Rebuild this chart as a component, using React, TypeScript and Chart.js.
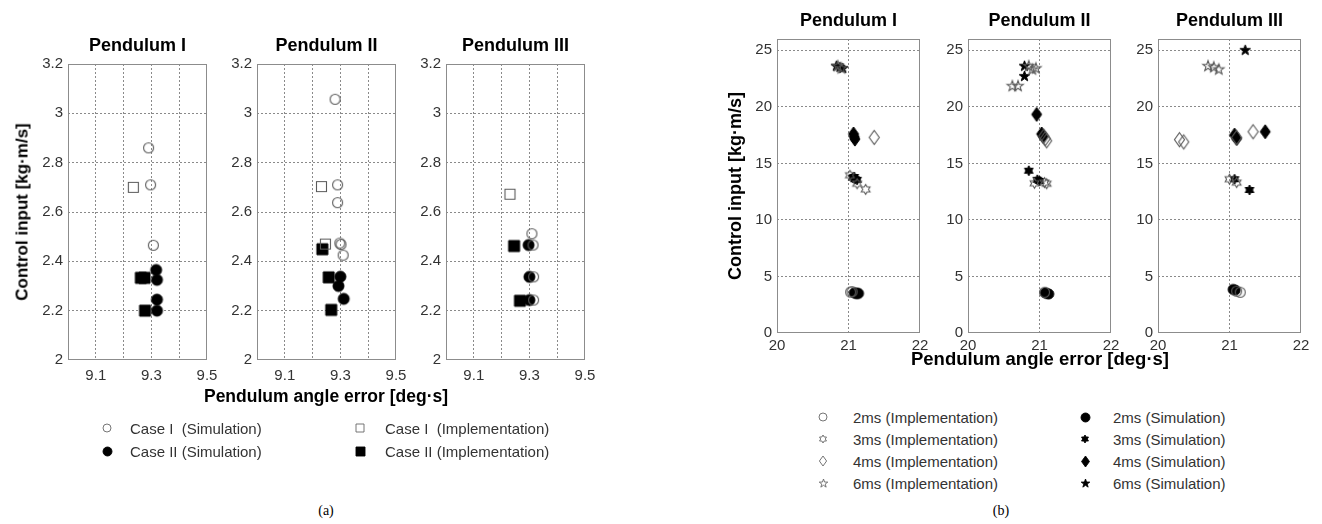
import React, { useEffect, useRef } from 'react';
import { Chart, registerables } from 'chart.js';

Chart.register(...registerables);

const FONT = '"Liberation Sans", Arial, Helvetica, sans-serif';
const TEXT_DARK = '#333333';
const OPEN_COLOR = '#5a5a5a';
const GRID_COLOR = '#8a8a8a';
const BOX_COLOR = '#8c8c8c';

type Pt = [number, number];

// ---------- (a) data ----------
const aTitles = ['Pendulum I', 'Pendulum II', 'Pendulum III'];
const aXTicks = [9.1, 9.2, 9.3, 9.4, 9.5];
const aXLabels = [9.1, 9.3, 9.5];
const aYTicks = [2, 2.2, 2.4, 2.6, 2.8, 3, 3.2];

const aP1CaseISim: Pt[] = [[9.29, 2.86], [9.297, 2.71], [9.307, 2.465]];
const aP1CaseIImpl: Pt[] = [[9.235, 2.7]];
const aP1CaseIISim: Pt[] = [[9.317, 2.365], [9.32, 2.325], [9.32, 2.245], [9.32, 2.2]];
const aP1CaseIIImpl: Pt[] = [[9.262, 2.333], [9.275, 2.333], [9.277, 2.2]];

const aP2CaseISim: Pt[] = [[9.281, 3.057], [9.29, 2.71], [9.29, 2.638], [9.298, 2.474], [9.302, 2.468], [9.31, 2.425]];
const aP2CaseIImpl: Pt[] = [[9.232, 2.703], [9.246, 2.47]];
const aP2CaseIISim: Pt[] = [[9.3, 2.338], [9.293, 2.3], [9.312, 2.248]];
const aP2CaseIIImpl: Pt[] = [[9.235, 2.449], [9.258, 2.335], [9.267, 2.203]];

const aP3CaseISim: Pt[] = [[9.309, 2.512], [9.313, 2.466], [9.315, 2.337], [9.315, 2.243]];
const aP3CaseIImpl: Pt[] = [[9.23, 2.672]];
const aP3CaseIISim: Pt[] = [[9.297, 2.466], [9.3, 2.337], [9.3, 2.243]];
const aP3CaseIIImpl: Pt[] = [[9.245, 2.462], [9.266, 2.24]];

const aLegendLabels = ['Case I  (Simulation)', 'Case II (Simulation)', 'Case I  (Implementation)', 'Case II (Implementation)'];

// ---------- (b) data ----------
const bXTicks = [20, 21, 22];
const bYTicks = [0, 5, 10, 15, 20, 25];

const bP1Impl2: Pt[] = [[21.03, 3.62], [21.05, 3.65]];
const bP1Sim2: Pt[] = [[21.08, 3.55], [21.1, 3.5], [21.12, 3.5], [21.14, 3.5]];
const bP1Impl3: Pt[] = [[21.02, 13.95], [21.12, 13.2], [21.24, 12.7]];
const bP1Sim3: Pt[] = [[21.06, 13.75], [21.09, 13.6], [21.12, 13.55], [21.08, 13.8]];
const bP1Impl4: Pt[] = [[21.36, 17.3]];
const bP1Sim4: Pt[] = [[21.07, 17.6], [21.08, 17.35], [21.09, 17.15]];
const bP1Impl6: Pt[] = [[20.85, 23.6], [20.9, 23.4]];
const bP1Sim6: Pt[] = [[20.83, 23.6], [20.88, 23.5], [20.92, 23.4]];

const bP2Impl2: Pt[] = [[21.07, 3.6]];
const bP2Sim2: Pt[] = [[21.08, 3.55], [21.1, 3.5], [21.13, 3.45]];
const bP2Impl3: Pt[] = [[20.93, 13.24], [21.07, 13.3], [21.1, 13.2]];
const bP2Sim3: Pt[] = [[20.85, 14.35], [20.97, 13.55], [21.0, 13.45]];
const bP2Impl4: Pt[] = [[21.06, 17.4], [21.08, 17.2], [21.1, 17.0]];
const bP2Sim4: Pt[] = [[20.96, 19.33], [21.03, 17.6], [21.05, 17.4]];
const bP2Impl6: Pt[] = [[20.62, 21.83], [20.7, 21.83], [20.9, 23.3], [20.95, 23.4], [20.85, 23.6]];
const bP2Sim6: Pt[] = [[20.79, 23.6], [20.79, 22.7]];

const bP3Impl2: Pt[] = [[21.1, 3.7], [21.15, 3.6]];
const bP3Sim2: Pt[] = [[21.05, 3.85], [21.08, 3.8]];
const bP3Impl3: Pt[] = [[21.0, 13.6], [21.1, 13.3]];
const bP3Sim3: Pt[] = [[21.07, 13.6], [21.28, 12.65]];
const bP3Impl4: Pt[] = [[20.3, 17.1], [20.36, 16.9], [21.1, 17.3], [21.33, 17.8]];
const bP3Sim4: Pt[] = [[21.07, 17.5], [21.1, 17.2], [21.5, 17.8]];
const bP3Impl6: Pt[] = [[20.7, 23.6], [20.78, 23.5], [20.85, 23.3]];
const bP3Sim6: Pt[] = [[21.22, 25.0]];

const bLegendLeft = ['2ms (Implementation)', '3ms (Implementation)', '4ms (Implementation)', '6ms (Implementation)'];
const bLegendRight = ['2ms (Simulation)', '3ms (Simulation)', '4ms (Simulation)', '6ms (Simulation)'];

// ---------- marker drawing ----------
type Shape = 'circle' | 'square' | 'diamond' | 'hexagram' | 'pentagram';

function starPath(ctx: CanvasRenderingContext2D, cx: number, cy: number, n: number, ro: number, ri: number) {
  for (let i = 0; i < 2 * n; i++) {
    const a = -Math.PI / 2 + (i * Math.PI) / n;
    const r = i % 2 === 0 ? ro : ri;
    const px = cx + r * Math.cos(a);
    const py = cy + r * Math.sin(a);
    if (i === 0) ctx.moveTo(px, py);
    else ctx.lineTo(px, py);
  }
  ctx.closePath();
}

function drawShape(ctx: CanvasRenderingContext2D, shape: Shape, cx: number, cy: number, r: number, filled: boolean, color: string, lw: number) {
  ctx.save();
  ctx.beginPath();
  if (shape === 'circle') ctx.arc(cx, cy, r, 0, Math.PI * 2);
  else if (shape === 'square') ctx.rect(cx - r, cy - r, 2 * r, 2 * r);
  else if (shape === 'diamond') {
    ctx.moveTo(cx, cy - r);
    ctx.lineTo(cx + r * 0.72, cy);
    ctx.lineTo(cx, cy + r);
    ctx.lineTo(cx - r * 0.72, cy);
    ctx.closePath();
  } else if (shape === 'hexagram') starPath(ctx, cx, cy, 6, r, r / Math.sqrt(3));
  else starPath(ctx, cx, cy, 5, r, r * 0.4);
  if (filled) {
    ctx.fillStyle = color;
    ctx.fill();
  }
  ctx.lineWidth = lw;
  ctx.strokeStyle = color;
  ctx.stroke();
  ctx.restore();
}

function markerCanvas(shape: Shape, r: number, filled: boolean, lw = 1): HTMLCanvasElement {
  const s = Math.ceil(2 * r + 2 * lw + 2);
  const c = document.createElement('canvas');
  c.width = s;
  c.height = s;
  const ctx = c.getContext('2d')!;
  drawShape(ctx, shape, s / 2, s / 2, r, filled, filled ? '#000000' : OPEN_COLOR, lw);
  return c;
}

// ---------- panel ----------
interface Series {
  data: Pt[];
  shape: Shape;
  r: number;
  filled: boolean;
}

interface PanelProps {
  left: number;
  top: number;
  width: number;
  height: number;
  xMin: number;
  xMax: number;
  yMin: number;
  yMax: number;
  xTicks: number[];
  xLabels: number[];
  yTicks: number[];
  xPad: number;
  series: Series[];
}

const AX_W = 50;
const AX_H = 30;
const PAD_T = 14;
const PAD_R = 16;

const boxPlugin = {
  id: 'matlabBox',
  afterDraw(chart: any) {
    const { ctx, chartArea } = chart;
    ctx.save();
    ctx.strokeStyle = BOX_COLOR;
    ctx.lineWidth = 1;
    ctx.strokeRect(Math.round(chartArea.left) + 0.5, Math.round(chartArea.top) + 0.5, Math.round(chartArea.right - chartArea.left) - 1, Math.round(chartArea.bottom - chartArea.top) - 1);
    ctx.restore();
  },
};

const fmt = (v: number) => String(Math.round(v * 10) / 10);

function Panel(p: PanelProps) {
  const ref = useRef<HTMLCanvasElement | null>(null);
  useEffect(() => {
    if (!ref.current) return;
    const inside = (v: number, lo: number, hi: number) => v > lo + 1e-9 && v < hi - 1e-9;
    const chart = new Chart(ref.current, {
      type: 'scatter',
      data: {
        datasets: p.series.map((s) => ({
          data: s.data.map(([x, y]) => ({ x, y })),
          pointStyle: markerCanvas(s.shape, s.r, s.filled, s.filled ? 1 : 1.1) as any,
          pointRadius: 3,
          showLine: false,
        })),
      },
      options: {
        animation: false,
        responsive: false,
        events: [],
        layout: { padding: { left: 0, top: PAD_T, right: PAD_R, bottom: 0 } },
        plugins: { legend: { display: false }, tooltip: { enabled: false }, title: { display: false } },
        scales: {
          x: {
            type: 'linear',
            min: p.xMin,
            max: p.xMax,
            afterBuildTicks: (sc: any) => {
              sc.ticks = p.xTicks.map((v) => ({ value: v }));
            },
            afterFit: (sc: any) => {
              sc.height = AX_H;
              sc.paddingLeft = 0;
              sc.paddingRight = 0;
            },
            ticks: {
              autoSkip: false,
              maxRotation: 0,
              padding: p.xPad,
              color: TEXT_DARK,
              font: { family: FONT, size: 15 },
              callback: (v: any) => (p.xLabels.some((l) => Math.abs(l - v) < 1e-6) ? fmt(v) : ''),
            },
            grid: {
              drawTicks: false,
              lineWidth: 1,
              color: (c: any) => (c.tick && inside(c.tick.value, p.xMin, p.xMax) ? GRID_COLOR : 'rgba(0,0,0,0)'),
            },
            border: { display: false, dash: [2, 2] },
          },
          y: {
            type: 'linear',
            min: p.yMin,
            max: p.yMax,
            afterBuildTicks: (sc: any) => {
              sc.ticks = p.yTicks.map((v) => ({ value: v }));
            },
            afterFit: (sc: any) => {
              sc.width = AX_W;
              sc.paddingTop = 0;
              sc.paddingBottom = 0;
            },
            ticks: {
              autoSkip: false,
              padding: 5,
              color: TEXT_DARK,
              font: { family: FONT, size: 15 },
              callback: (v: any) => fmt(v),
            },
            grid: {
              drawTicks: false,
              lineWidth: 1,
              color: (c: any) => (c.tick && inside(c.tick.value, p.yMin, p.yMax) ? GRID_COLOR : 'rgba(0,0,0,0)'),
            },
            border: { display: false, dash: [2, 2] },
          },
        },
      },
      plugins: [boxPlugin],
    } as any);
    return () => chart.destroy();
  }, []);
  const w = p.width + AX_W + PAD_R;
  const h = p.height + PAD_T + AX_H;
  return (
    <canvas
      ref={ref}
      width={w}
      height={h}
      style={{ position: 'absolute', left: p.left - AX_W, top: p.top - PAD_T, width: w, height: h }}
    />
  );
}

// ---------- text helpers ----------
function Txt(props: { x: number; y: number; text: string; size: number; bold?: boolean; rotate?: boolean; color?: string; family?: string; align?: 'center' | 'left' }) {
  const center = props.align !== 'left';
  return (
    <div
      style={{
        position: 'absolute',
        left: props.x,
        top: props.y,
        transform: `translate(${center ? '-50%' : '0'}, -50%)${props.rotate ? ' rotate(-90deg)' : ''}`,
        fontFamily: props.family || FONT,
        fontSize: props.size,
        fontWeight: props.bold ? 'bold' : 'normal',
        color: props.color || '#000',
        whiteSpace: 'pre',
        lineHeight: 1,
      }}
    >
      {props.text}
    </div>
  );
}

function Icon(props: { x: number; y: number; shape: Shape; r: number; filled: boolean }) {
  const ref = useRef<HTMLCanvasElement | null>(null);
  const s = Math.ceil(2 * props.r + 6);
  useEffect(() => {
    const c = ref.current;
    if (!c) return;
    const ctx = c.getContext('2d')!;
    ctx.clearRect(0, 0, s, s);
    drawShape(ctx, props.shape, s / 2, s / 2, props.r, props.filled, props.filled ? '#000' : '#666', 0.9);
  }, []);
  return <canvas ref={ref} width={s} height={s} style={{ position: 'absolute', left: props.x - s / 2, top: props.y - s / 2 }} />;
}

// ---------- layout ----------
const A_LEFTS = [68, 257, 446];
const A_TOP = 64;
const A_W = 139;
const A_H = 296;

const B_LEFTS = [777, 968, 1158];
const B_TOP = 39;
const B_W = 143;
const B_H = 294;

export default function App() {
  const aData = [
    [aP1CaseISim, aP1CaseIImpl, aP1CaseIISim, aP1CaseIIImpl],
    [aP2CaseISim, aP2CaseIImpl, aP2CaseIISim, aP2CaseIIImpl],
    [aP3CaseISim, aP3CaseIImpl, aP3CaseIISim, aP3CaseIIImpl],
  ];
  const bData = [
    [bP1Impl2, bP1Impl3, bP1Impl4, bP1Impl6, bP1Sim2, bP1Sim3, bP1Sim4, bP1Sim6],
    [bP2Impl2, bP2Impl3, bP2Impl4, bP2Impl6, bP2Sim2, bP2Sim3, bP2Sim4, bP2Sim6],
    [bP3Impl2, bP3Impl3, bP3Impl4, bP3Impl6, bP3Sim2, bP3Sim3, bP3Sim4, bP3Sim6],
  ];
  const bShapes: Shape[] = ['circle', 'hexagram', 'diamond', 'pentagram'];
  const bSizes = [5, 5, 7, 5.5];

  return (
    <div style={{ position: 'absolute', left: 0, top: 0, width: 1322, height: 524, background: '#fff', overflow: 'hidden' }}>
      {aData.map((d, i) => (
        <Panel
          key={'a' + i}
          left={A_LEFTS[i]}
          top={A_TOP}
          width={A_W}
          height={A_H}
          xMin={9.0}
          xMax={9.5}
          yMin={2}
          yMax={3.2}
          xTicks={aXTicks}
          xLabels={aXLabels}
          yTicks={aYTicks}
          xPad={7}
          series={[
            { data: d[0], shape: 'circle', r: 5, filled: false },
            { data: d[1], shape: 'square', r: 5, filled: false },
            { data: d[2], shape: 'circle', r: 5.5, filled: true },
            { data: d[3], shape: 'square', r: 5.5, filled: true },
          ]}
        />
      ))}
      {bData.map((d, i) => (
        <Panel
          key={'b' + i}
          left={B_LEFTS[i]}
          top={B_TOP}
          width={B_W}
          height={B_H}
          xMin={20}
          xMax={22}
          yMin={0}
          yMax={26}
          xTicks={bXTicks}
          xLabels={bXTicks}
          yTicks={bYTicks}
          xPad={4}
          series={d.map((s, k) => ({ data: s, shape: bShapes[k % 4], r: bSizes[k % 4], filled: k >= 4 }))}
        />
      ))}

      {aTitles.map((t, i) => (
        <Txt key={'at' + i} x={A_LEFTS[i] + A_W / 2} y={45} text={t} size={18} bold />
      ))}
      {aTitles.map((t, i) => (
        <Txt key={'bt' + i} x={B_LEFTS[i] + B_W / 2} y={20} text={t} size={18} bold />
      ))}

      <Txt x={22} y={212} text="Control input [kg·m/s]" size={17} bold rotate />
      <Txt x={326} y={397} text="Pendulum angle error [deg·s]" size={17.5} bold />
      <Txt x={735} y={186} text="Control input [kg·m/s]" size={18} bold rotate />
      <Txt x={1040} y={359} text="Pendulum angle error [deg·s]" size={18.5} bold />

      {/* legend (a) */}
      <Icon x={107} y={428} shape="circle" r={4} filled={false} />
      <Icon x={107} y={451} shape="circle" r={4.5} filled />
      <Icon x={360} y={428} shape="square" r={4} filled={false} />
      <Icon x={360} y={451} shape="square" r={4.5} filled />
      <Txt x={130} y={428} text={aLegendLabels[0]} size={15} color={TEXT_DARK} align="left" />
      <Txt x={130} y={451} text={aLegendLabels[1]} size={15} color={TEXT_DARK} align="left" />
      <Txt x={385} y={428} text={aLegendLabels[2]} size={15} color={TEXT_DARK} align="left" />
      <Txt x={385} y={451} text={aLegendLabels[3]} size={15} color={TEXT_DARK} align="left" />

      {/* legend (b) */}
      {bLegendLeft.map((t, k) => (
        <React.Fragment key={'bl' + k}>
          <Icon x={823} y={417 + k * 22} shape={bShapes[k]} r={[4, 4, 5, 4.5][k]} filled={false} />
          <Txt x={853} y={417 + k * 22} text={t} size={15} color={TEXT_DARK} align="left" />
        </React.Fragment>
      ))}
      {bLegendRight.map((t, k) => (
        <React.Fragment key={'br' + k}>
          <Icon x={1085} y={417 + k * 22} shape={bShapes[k]} r={[4.5, 4, 5.5, 4.5][k]} filled />
          <Txt x={1113} y={417 + k * 22} text={t} size={15} color={TEXT_DARK} align="left" />
        </React.Fragment>
      ))}

      <Txt x={326} y={511} text="(a)" size={14} family='"Liberation Serif", "Times New Roman", serif' />
      <Txt x={1001} y={511} text="(b)" size={14} family='"Liberation Serif", "Times New Roman", serif' />
    </div>
  );
}
